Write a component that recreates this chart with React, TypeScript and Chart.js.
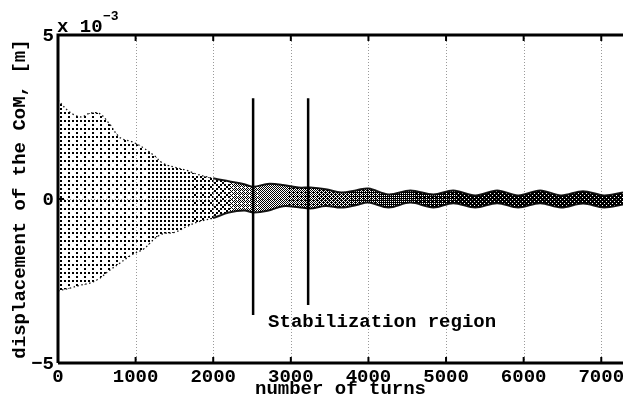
import React, { useEffect, useRef } from "react";
import { Chart, registerables } from "chart.js";

Chart.register(...registerables);

// ---- data (turns, displacement in units of 1e-3 m) ----
const turns = [0, 150, 300, 400, 530, 650, 800, 950, 1100, 1250, 1350, 1500, 1650, 1800, 2000, 2200, 2400, 2520, 2700, 2900, 3100, 3250, 3450, 3650, 3850, 4000, 4260, 4540, 4836, 5093, 5376, 5659, 5929, 6212, 6482, 6765, 7035, 7280];
const upperEnvelope = [3.01, 2.65, 2.5, 2.61, 2.61, 2.33, 1.87, 1.75, 1.56, 1.3, 1.09, 0.97, 0.88, 0.75, 0.63, 0.54, 0.45, 0.37, 0.46, 0.43, 0.35, 0.35, 0.3, 0.2, 0.27, 0.32, 0.14, 0.26, 0.14, 0.26, 0.11, 0.26, 0.11, 0.26, 0.11, 0.24, 0.11, 0.2];
const lowerEnvelope = [-2.8, -2.72, -2.62, -2.57, -2.43, -2.2, -1.95, -1.7, -1.53, -1.2, -1.06, -1.02, -0.85, -0.7, -0.58, -0.41, -0.35, -0.41, -0.36, -0.22, -0.25, -0.29, -0.21, -0.26, -0.18, -0.11, -0.26, -0.11, -0.26, -0.13, -0.26, -0.13, -0.26, -0.13, -0.26, -0.14, -0.26, -0.17];

const markerTurns = [2514, 3223];
const markerTop = [3.07, 3.07];
const markerBottom = [-3.54, -3.23];

const xTicks = [0, 1000, 2000, 3000, 4000, 5000, 6000, 7000];
const yTicks = [-5, 0, 5];
const yTickLabels = ["\u22125", "0", "5"];

const annotationText = "Stabilization region";
const annotationAt = { x: 2707, y: -3.77 };
const xTitle = "number of turns";
const yTitle = "displacement of the CoM, [m]";

const W = 623;
const H = 399;
const FONT = '"Liberation Mono", "Courier New", monospace';

function darkness(px: number): number {
  const stops: [number, number][] = [
    [58, 0.16], [120, 0.18], [180, 0.26], [230, 0.4], [280, 0.52], [330, 0.62], [400, 0.76], [460, 0.85], [623, 0.88],
  ];
  if (px <= stops[0][0]) return stops[0][1];
  for (let i = 1; i < stops.length; i++) {
    if (px <= stops[i][0]) {
      const [x0, d0] = stops[i - 1];
      const [x1, d1] = stops[i];
      return d0 + ((px - x0) / (x1 - x0)) * (d1 - d0);
    }
  }
  return stops[stops.length - 1][1];
}

const BAYER = [
  [0, 8, 2, 10],
  [12, 4, 14, 6],
  [3, 11, 1, 9],
  [15, 7, 13, 5],
];

function makeStipple(ctx: CanvasRenderingContext2D): CanvasPattern | string {
  const off = document.createElement("canvas");
  off.width = W;
  off.height = H;
  const octx = off.getContext("2d");
  if (!octx) return "rgba(0,0,0,0.5)";
  const img = octx.createImageData(W, H);
  for (let y = 0; y < H; y++) {
    for (let x = 0; x < W; x++) {
      const cell = x < 230 ? 2 : 1;
      const ci = Math.floor(x / cell);
      const cj = Math.floor(y / cell);
      const t = (BAYER[cj % 4][ci % 4] + 0.5) / 16;
      const k = (y * W + x) * 4;
      if (t < darkness(x)) {
        img.data[k] = 0;
        img.data[k + 1] = 0;
        img.data[k + 2] = 0;
        img.data[k + 3] = 255;
      } else {
        img.data[k + 3] = 0;
      }
    }
  }
  octx.putImageData(img, 0, 0);
  return ctx.createPattern(off, "no-repeat") || "rgba(0,0,0,0.5)";
}

const overlay = {
  id: "overlay",
  beforeDatasetsDraw(chart: any) {
    const { ctx, chartArea: a, scales } = chart;
    const x = scales.x;
    const y = scales.y;
    ctx.save();
    ctx.strokeStyle = "#9a9a9a";
    ctx.lineWidth = 1;
    ctx.setLineDash([1, 2]);
    xTicks.forEach((t) => {
      if (t === 0) return;
      const px = Math.round(x.getPixelForValue(t)) + 0.5;
      ctx.beginPath();
      ctx.moveTo(px, a.top);
      ctx.lineTo(px, a.bottom);
      ctx.stroke();
    });
    const py = Math.round(y.getPixelForValue(0)) + 0.5;
    ctx.beginPath();
    ctx.moveTo(a.left, py);
    ctx.lineTo(a.right, py);
    ctx.stroke();
    ctx.restore();
  },
  afterDraw(chart: any) {
    const { ctx, chartArea: a, scales } = chart;
    const x = scales.x;
    const y = scales.y;
    ctx.save();
    ctx.setLineDash([]);
    ctx.strokeStyle = "#000";
    ctx.lineWidth = 3;
    ctx.beginPath();
    ctx.moveTo(a.left, a.bottom);
    ctx.lineTo(a.left, a.top);
    ctx.lineTo(a.right + 2, a.top);
    ctx.moveTo(a.left, a.bottom);
    ctx.lineTo(a.right + 2, a.bottom);
    ctx.stroke();

    // tick marks
    ctx.lineWidth = 2;
    xTicks.forEach((t) => {
      const px = x.getPixelForValue(t);
      ctx.beginPath();
      ctx.moveTo(px, a.bottom);
      ctx.lineTo(px, a.bottom - 6);
      ctx.moveTo(px, a.top);
      ctx.lineTo(px, a.top + 6);
      ctx.stroke();
    });
    const y0 = y.getPixelForValue(0);
    ctx.beginPath();
    ctx.moveTo(a.left, y0);
    ctx.lineTo(a.left + 6, y0);
    ctx.stroke();

    ctx.fillStyle = "#000";
    ctx.font = `bold 19px ${FONT}`;
    ctx.textAlign = "center";
    ctx.textBaseline = "alphabetic";
    xTicks.forEach((t) => {
      ctx.fillText(String(t), x.getPixelForValue(t), a.bottom + 19);
    });
    ctx.textAlign = "right";
    ctx.textBaseline = "middle";
    yTicks.forEach((t, i) => {
      ctx.fillText(yTickLabels[i], a.left - 4, y.getPixelForValue(t) + 1);
    });

    // x title
    ctx.textAlign = "center";
    ctx.textBaseline = "alphabetic";
    ctx.fillText(xTitle, (a.left + a.right) / 2, 394);

    // y title
    ctx.save();
    ctx.translate(20, (a.top + a.bottom) / 2);
    ctx.rotate(-Math.PI / 2);
    ctx.textAlign = "center";
    ctx.textBaseline = "middle";
    ctx.fillText(yTitle, 0, 0);
    ctx.restore();

    // exponent
    ctx.textAlign = "left";
    ctx.textBaseline = "alphabetic";
    ctx.fillText("x 10", a.left - 1, 32);
    ctx.font = `bold 13px ${FONT}`;
    ctx.fillText("\u22123", a.left + 45, 20);

    // annotation
    ctx.font = `bold 19px ${FONT}`;
    ctx.textAlign = "left";
    ctx.textBaseline = "middle";
    ctx.fillText(annotationText, x.getPixelForValue(annotationAt.x), y.getPixelForValue(annotationAt.y));
    ctx.restore();
  },
};

export default function App() {
  const ref = useRef<HTMLCanvasElement | null>(null);
  useEffect(() => {
    const canvas = ref.current;
    if (!canvas) return;
    const ctx = canvas.getContext("2d") as CanvasRenderingContext2D;
    const stipple = makeStipple(ctx);
    const edgeDash = (c: any) => (c.p0.parsed.x < 1900 ? [1.5, 2.5] : undefined);
    const edgeWidth = (c: any) => (c.p0.parsed.x < 1900 ? 1.3 : 2);
    const chart = new Chart(canvas, {
      type: "line",
      data: {
        datasets: [
          {
            data: turns.map((t, i) => ({ x: t, y: upperEnvelope[i] })),
            borderColor: "rgba(0,0,0,0.9)",
            borderWidth: 1.5,
            pointRadius: 0,
            tension: 0.35,
            fill: false,
            segment: { borderDash: edgeDash, borderWidth: edgeWidth },
          },
          {
            data: turns.map((t, i) => ({ x: t, y: lowerEnvelope[i] })),
            borderColor: "rgba(0,0,0,0.9)",
            borderWidth: 1.5,
            pointRadius: 0,
            tension: 0.35,
            fill: "-1",
            backgroundColor: stipple as any,
            segment: { borderDash: edgeDash, borderWidth: edgeWidth },
          },
          ...markerTurns.map((t, i) => ({
            data: [
              { x: t, y: markerTop[i] },
              { x: t, y: markerBottom[i] },
            ],
            borderColor: "#000",
            borderWidth: 2.5,
            pointRadius: 0,
            fill: false,
          })),
        ],
      },
      options: {
        animation: false,
        responsive: false,
        devicePixelRatio: 1,
        layout: { padding: { top: 35, left: 0, right: 0, bottom: 0 } },
        plugins: { legend: { display: false }, tooltip: { enabled: false } },
        scales: {
          x: {
            type: "linear",
            min: 0,
            max: 7280,
            grid: { display: false },
            border: { display: false },
            ticks: { display: false },
            afterFit: (s: any) => {
              s.height = 36;
              s.paddingLeft = 0;
              s.paddingRight = 0;
            },
          },
          y: {
            type: "linear",
            min: -5,
            max: 5,
            grid: { display: false },
            border: { display: false },
            ticks: { display: false },
            afterFit: (s: any) => {
              s.width = 58;
              s.paddingTop = 0;
              s.paddingBottom = 0;
            },
          },
        },
      },
      plugins: [overlay],
    });
    return () => chart.destroy();
  }, []);
  return (
    <div style={{ position: "fixed", left: 0, top: 0, width: W, height: H, background: "#fff" }}>
      <canvas ref={ref} width={W} height={H} style={{ width: W, height: H, display: "block" }} />
    </div>
  );
}
